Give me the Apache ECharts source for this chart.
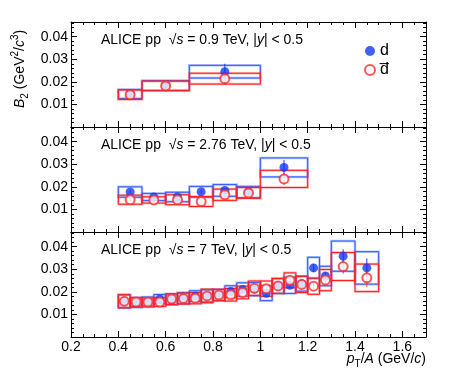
<!DOCTYPE html>
<html>
<head>
<meta charset="utf-8">
<script src="https://cdn.jsdelivr.net/npm/echarts@6/dist/echarts.min.js"></script>
<style>
  html, body { margin: 0; padding: 0; background: #fff; }
  #main { width: 473px; height: 384px; }
</style>
</head>
<body>
<div id="main"></div>
<script>
// B2 of deuterons vs pT/A, three energies

// 0.9 TeV
var binLo09 = [0.4, 0.5, 0.7];
var binHi09 = [0.5, 0.7, 1.0];
var d09 = [0.0146, 0.0184, 0.0245];
var d09Stat = [0.0018, 0.002, 0.0035];
var d09Sys = [0.002, 0.0022, 0.0028];
var dbar09 = [0.0143, 0.0182, 0.0214];
var dbar09Stat = [0.002, 0.0022, 0.0028];
var dbar09Sys = [0.0021, 0.0021, 0.0024];

// 2.76 TeV
var binLo276 = [0.4, 0.5, 0.6, 0.7, 0.8, 0.9, 1.0];
var binHi276 = [0.5, 0.6, 0.7, 0.8, 0.9, 1.0, 1.2];
var d276 = [0.0177, 0.0155, 0.0155, 0.0178, 0.0184, 0.0177, 0.0286];
var d276Stat = [0.0008, 0.0008, 0.0008, 0.0009, 0.001, 0.0012, 0.0033];
var d276Sys = [0.0023, 0.0016, 0.0021, 0.0024, 0.0026, 0.0025, 0.0042];
var dbar276 = [0.0143, 0.0142, 0.0143, 0.0135, 0.0165, 0.0173, 0.0235];
var dbar276Stat = [0.0008, 0.0008, 0.0009, 0.001, 0.0011, 0.0013, 0.0026];
var dbar276Sys = [0.002, 0.0014, 0.0022, 0.0022, 0.0025, 0.0024, 0.0038];

// 7 TeV
var binLo7 = [0.4, 0.45, 0.5, 0.55, 0.6, 0.65, 0.7, 0.75, 0.8, 0.85, 0.9, 0.95, 1.0, 1.05, 1.1, 1.15, 1.2, 1.25, 1.3, 1.4];
var binHi7 = [0.45, 0.5, 0.55, 0.6, 0.65, 0.7, 0.75, 0.8, 0.85, 0.9, 0.95, 1.0, 1.05, 1.1, 1.15, 1.2, 1.25, 1.3, 1.4, 1.5];
var d7 = [0.0158, 0.0153, 0.0155, 0.0168, 0.0165, 0.0172, 0.0181, 0.0182, 0.0186, 0.0201, 0.021, 0.0212, 0.0194, 0.0226, 0.0229, 0.0236, 0.0306, 0.027, 0.0358, 0.0306];
var d7Stat = [0.0004, 0.0004, 0.0004, 0.0005, 0.0005, 0.0005, 0.0005, 0.0006, 0.0006, 0.0007, 0.0008, 0.0008, 0.001, 0.001, 0.0012, 0.0014, 0.0018, 0.0017, 0.003, 0.0042];
var d7Sys = [0.0029, 0.0022, 0.0022, 0.002, 0.0022, 0.0025, 0.0024, 0.0027, 0.0025, 0.0026, 0.003, 0.0029, 0.0033, 0.0033, 0.0036, 0.0033, 0.0047, 0.0043, 0.0067, 0.0072];
var dbar7 = [0.0158, 0.0155, 0.0155, 0.0155, 0.0168, 0.017, 0.0172, 0.0182, 0.0186, 0.0187, 0.0197, 0.0216, 0.0214, 0.0226, 0.0251, 0.0233, 0.0225, 0.0252, 0.0312, 0.0262];
var dbar7Stat = [0.0004, 0.0004, 0.0004, 0.0005, 0.0005, 0.0005, 0.0005, 0.0006, 0.0006, 0.0007, 0.0008, 0.0008, 0.001, 0.001, 0.0012, 0.0014, 0.0016, 0.002, 0.0031, 0.004];
var dbar7Sys = [0.0029, 0.0019, 0.0018, 0.002, 0.0024, 0.0024, 0.0025, 0.003, 0.0025, 0.0028, 0.0028, 0.0032, 0.0034, 0.0033, 0.0033, 0.0036, 0.0036, 0.0047, 0.0062, 0.0061];

var panelTitles = ['0.9', '2.76', '7'];
var xTicks = { min: 0.2, max: 1.7, interval: 0.2 };
var yTicks = { min: 0, max: 0.0465, interval: 0.01 };

var FONT = '"Liberation Sans", Arial, Helvetica, sans-serif';
var BLUE = '#1438f5';
var RED = '#ff2a2a';

var panels = [
  { lo: binLo09, hi: binHi09, d: d09, dStat: d09Stat, dSys: d09Sys, db: dbar09, dbStat: dbar09Stat, dbSys: dbar09Sys },
  { lo: binLo276, hi: binHi276, d: d276, dStat: d276Stat, dSys: d276Sys, db: dbar276, dbStat: dbar276Stat, dbSys: dbar276Sys },
  { lo: binLo7, hi: binHi7, d: d7, dStat: d7Stat, dSys: d7Sys, db: dbar7, dbStat: dbar7Stat, dbSys: dbar7Sys }
];

var gridTops = [22, 127, 232];

var myChart = echarts.init(document.getElementById('main'));

function boxRender(pale, strong) {
  return function (params, api) {
    var p1 = api.coord([api.value(0), api.value(2) + api.value(3)]);
    var p2 = api.coord([api.value(1), api.value(2) - api.value(3)]);
    var shape = { x: p1[0], y: p1[1], width: p2[0] - p1[0], height: p2[1] - p1[1] };
    return {
      type: 'group',
      children: [
        { type: 'rect', shape: shape, style: { fill: 'none', stroke: pale, lineWidth: 2.5 } },
        { type: 'rect', shape: shape, style: { fill: 'none', stroke: strong, lineWidth: 1 } }
      ]
    };
  };
}

function errRender(color) {
  return function (params, api) {
    var a = api.coord([api.value(0), api.value(1) - api.value(2)]);
    var b = api.coord([api.value(0), api.value(1) + api.value(2)]);
    return { type: 'line', shape: { x1: a[0], y1: a[1], x2: b[0], y2: b[1] }, style: { stroke: color, lineWidth: 1 } };
  };
}

var grid = [], xAxis = [], yAxis = [], series = [], title = [];

panels.forEach(function (p, i) {
  grid.push({ left: 71, right: 47, top: gridTops[i], height: 105 });

  ['bottom', 'top'].forEach(function (pos) {
    xAxis.push({
      type: 'value', gridIndex: i, position: pos,
      min: xTicks.min, max: xTicks.max, interval: xTicks.interval,
      axisLine: { show: true, onZero: false, lineStyle: { color: '#000', width: 1 } },
      axisTick: { inside: true, length: 6, lineStyle: { color: '#000' } },
      minorTick: { show: true, splitNumber: 4, length: 3, lineStyle: { color: '#000' } },
      splitLine: { show: false },
      axisLabel: {
        show: i === 2 && pos === 'bottom', margin: 3, fontSize: 14, color: '#000', fontFamily: FONT,
        showMaxLabel: false,
        formatter: function (v) {
          if (v > 1.65) return '';
          return String(Math.round(v * 10) / 10);
        }
      }
    });
  });

  ['left', 'right'].forEach(function (pos) {
    yAxis.push({
      type: 'value', gridIndex: i, position: pos,
      min: yTicks.min, max: yTicks.max, interval: yTicks.interval,
      axisLine: { show: true, onZero: false, lineStyle: { color: '#000', width: 1 } },
      axisTick: { inside: true, length: 6, lineStyle: { color: '#000' } },
      minorTick: { show: true, splitNumber: 5, length: 3, lineStyle: { color: '#000' } },
      splitLine: { show: false },
      axisLabel: {
        show: pos === 'left', margin: 3, fontSize: 14, color: '#000', fontFamily: FONT,
        formatter: function (v) {
          var k = Math.round(v * 100);
          if (k === 0 || Math.abs(v * 100 - k) > 1e-6) return '';
          return v.toFixed(2);
        }
      }
    });
  });

  var xi = 2 * i, yi = 2 * i;
  var boxD = [], boxDb = [], errD = [], errDb = [], ptD = [], ptDb = [];
  for (var k = 0; k < p.lo.length; k++) {
    var xc = (p.lo[k] + p.hi[k]) / 2;
    boxD.push([p.lo[k], p.hi[k], p.d[k], p.dSys[k]]);
    boxDb.push([p.lo[k], p.hi[k], p.db[k], p.dbSys[k]]);
    errD.push([xc, p.d[k], p.dStat[k]]);
    errDb.push([xc, p.db[k], p.dbStat[k]]);
    ptD.push([xc, p.d[k]]);
    ptDb.push([xc, p.db[k]]);
  }

  series.push(
    { type: 'custom', xAxisIndex: xi, yAxisIndex: yi, renderItem: boxRender('rgba(60,100,255,0.4)', '#2f5bff'),
      data: boxD, encode: { x: [0, 1], y: [2] }, silent: true, z: 1 },
    { type: 'custom', xAxisIndex: xi, yAxisIndex: yi, renderItem: boxRender('rgba(255,60,60,0.4)', '#ff1a1a'),
      data: boxDb, encode: { x: [0, 1], y: [2] }, silent: true, z: 2 },
    { type: 'custom', xAxisIndex: xi, yAxisIndex: yi, renderItem: errRender(BLUE),
      data: errD, encode: { x: 0, y: 1 }, silent: true, z: 3 },
    { type: 'custom', xAxisIndex: xi, yAxisIndex: yi, renderItem: errRender(RED),
      data: errDb, encode: { x: 0, y: 1 }, silent: true, z: 3 },
    { name: 'd', type: 'scatter', xAxisIndex: xi, yAxisIndex: yi, symbol: 'circle', symbolSize: 9,
      itemStyle: { color: BLUE }, data: ptD, z: 4 },
    { name: 'd\u0305', type: 'scatter', xAxisIndex: xi, yAxisIndex: yi, symbol: 'emptyCircle', symbolSize: 9,
      itemStyle: { color: RED, borderColor: RED, borderWidth: 1 }, data: ptDb, z: 5 }
  );

  title.push({
    text: 'ALICE pp  \u221A{i|s} = ' + panelTitles[i] + ' TeV, |{i|y}| < 0.5',
    left: 101, top: gridTops[i] + 11, padding: 0,
    textStyle: {
      fontSize: 14, fontWeight: 'normal', color: '#000', fontFamily: FONT,
      rich: { i: { fontStyle: 'italic', fontSize: 14, color: '#000', fontFamily: FONT } }
    }
  });
});

var option = {
  animation: false,
  backgroundColor: '#fff',
  title: title,
  legend: {
    orient: 'vertical', left: 359, top: 38, itemWidth: 10, itemHeight: 10, itemGap: 3,
    selectedMode: false,
    textStyle: { fontSize: 16, color: '#000', fontFamily: FONT, lineHeight: 16 },
    data: ['d', 'd\u0305']
  },
  grid: grid,
  xAxis: xAxis,
  yAxis: yAxis,
  series: series,
  graphic: [
    {
      type: 'text', x: 20, y: 108, rotation: Math.PI / 2,
      style: {
        text: '{i|B}{sub|2} (GeV{sup|2}/{i|c}{sup|3})',
        fill: '#000', font: '14px ' + FONT, align: 'left', verticalAlign: 'middle',
        rich: {
          i: { fontStyle: 'italic', fontSize: 14, fontFamily: FONT, lineHeight: 20 },
          sub: { fontSize: 10, fontFamily: FONT, verticalAlign: 'bottom', lineHeight: 20 },
          sup: { fontSize: 10, fontFamily: FONT, verticalAlign: 'top', lineHeight: 20 }
        }
      }
    },
    {
      type: 'text', x: 426, y: 359,
      style: {
        text: '{i|p}{sub|T}{n|/}{i|A}{n| (GeV/}{i|c}{n|)}',
        fill: '#000', font: '14px ' + FONT, align: 'right', verticalAlign: 'middle',
        rich: {
          i: { fontStyle: 'italic', fontSize: 14, fontFamily: FONT, lineHeight: 20 },
          n: { fontSize: 14, fontFamily: FONT, lineHeight: 20 },
          sub: { fontSize: 10, fontFamily: FONT, verticalAlign: 'bottom', lineHeight: 20 }
        }
      }
    }
  ]
};

myChart.setOption(option);
</script>
</body>
</html>
